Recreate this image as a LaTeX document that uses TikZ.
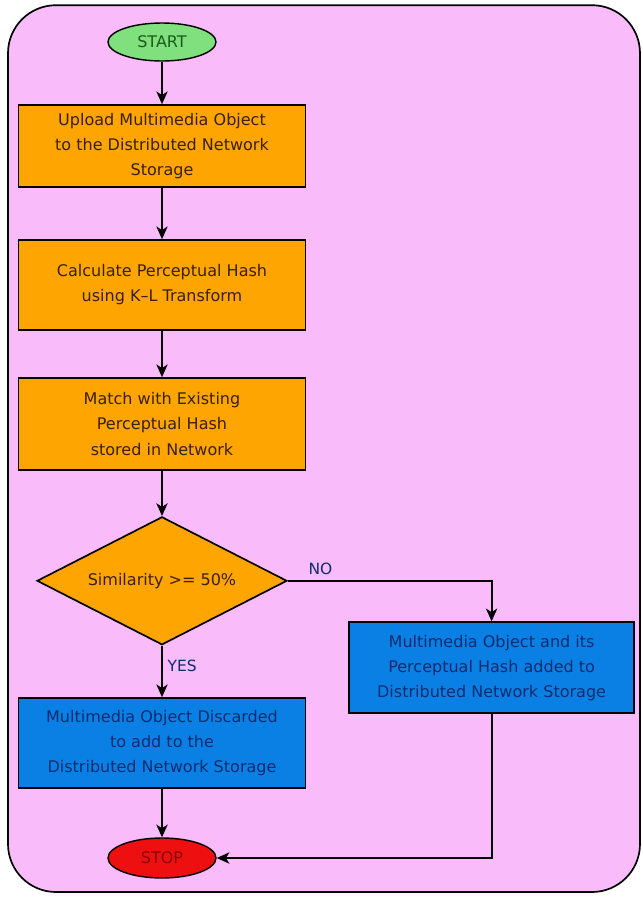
\documentclass[tikz,border=0pt]{standalone}
\usepackage{fontspec}
\setmainfont{DejaVu Sans}
\usetikzlibrary{arrows, arrows.meta, shapes, positioning}

\definecolor{bgpink}{HTML}{F9BBF9}
\definecolor{boxorange}{HTML}{FFA502}
\definecolor{boxblue}{HTML}{0B80E4}
\definecolor{textblue}{HTML}{0C2C6E}
\definecolor{textbrown}{HTML}{3A2000}
\definecolor{termgreen}{HTML}{80E07E}
\definecolor{textgreen}{HTML}{1C5A1C}
\definecolor{termred}{HTML}{EE1010}
\definecolor{textred}{HTML}{8A0000}

\begin{document}
\begin{tikzpicture}[
		  % Define the style of the start and stop ellipses
		  terminal/.style={ellipse, draw, line width=1pt, inner sep=0pt},
		  % Define the style of the orange process boxes
		  process/.style={rectangle, draw, line width=1.2pt, fill=boxorange, text=textbrown,
		    minimum width=7.175cm, align=center},
		  % Define the style of the blue result boxes
		  result/.style={rectangle, draw, line width=1.2pt, fill=boxblue, text=textblue,
		    minimum width=7.125cm, align=center},
		  % Define the style of the decision diamond
		  decision/.style={diamond, draw, line width=1.2pt, fill=boxorange, text=textbrown,
		    shape aspect=2, minimum width=6.25cm, minimum height=3.2cm, inner sep=0pt},
		  % Define the style of the arrow between nodes
		  arrow/.style={-{Stealth[length=9pt, width=8pt, inset=2.5pt]}, line width=1.3pt},
		  % Define the style of the branch labels
		  branch/.style={font=\fontsize{11}{13}\selectfont, text=textblue}
		  ]

		  \useasboundingbox (0,0) rectangle (16.075,-22.45);
		  % Background panel
		  \draw[fill=bgpink, line width=1.2pt, rounded corners=1.2cm] (0.2,-0.13) rectangle (16.0,-22.3);

		  \begin{scope}[font=\fontsize{11.4}{17.8}\selectfont]
		  % Start and stop
		  \node[terminal, fill=termgreen, text=textgreen, minimum width=2.7cm, minimum height=0.95cm]
		    (start) at (4.05,-1.05) {START};
		  \node[terminal, fill=termred, text=textred, minimum width=2.7cm, minimum height=1.0cm]
		    (stop) at (4.05,-21.45) {STOP};

		  % Process steps
		  \node[process, minimum height=2.05cm] (upload) at (4.05,-3.65)
		    {Upload Multimedia Object\\to the Distributed Network\\Storage};
		  \node[process, minimum height=2.25cm] (hash) at (4.05,-7.125)
		    {Calculate Perceptual Hash\\using K--L Transform};
		  \node[process, minimum height=2.3cm] (match) at (4.05,-10.6)
		    {Match with Existing\\Perceptual Hash\\stored in Network};

		  % Decision
		  \node[decision] (similar) at (4.05,-14.52) {Similarity >= 50\%};

		  % Outcomes
		  \node[result, minimum width=7.175cm, minimum height=2.25cm] (discard) at (4.05,-18.575)
		    {Multimedia Object Discarded\\to add to the\\Distributed Network Storage};
		  \node[result, minimum height=2.275cm] (added) at (12.29,-16.69)
		    {Multimedia Object and its\\Perceptual Hash added to\\Distributed Network Storage};
		  \end{scope}

		  % Connect the nodes
		  \draw[arrow] (start) -- (upload);
		  \draw[arrow] (upload) -- (hash);
		  \draw[arrow] (hash) -- (match);
		  \draw[arrow] (match) -- (similar);
		  \draw[arrow] (similar.south) -- (discard) node[branch, pos=0.4, right] {YES};
		  \draw[arrow] (similar.east) -| (added.north) node[branch, pos=0.08, above] {NO};
		  \draw[arrow] (discard) -- (stop);
		  \draw[arrow] (added.south) |- (stop.east);
\end{tikzpicture}
\end{document}
